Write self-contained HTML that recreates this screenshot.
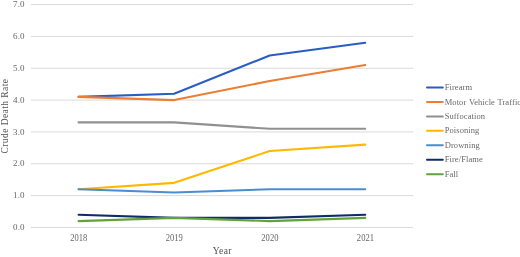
<!DOCTYPE html>
<html><head><meta charset="utf-8"><style>
html,body{margin:0;padding:0;background:#fff;width:520px;height:257px;overflow:hidden}
svg{display:block;filter:blur(0.35px)}
text{font-family:"Liberation Serif",serif}
.yl{font-size:9px;fill:#666;letter-spacing:0.1px}
.xl{font-size:9.8px;fill:#666}
.lg{font-size:8.5px;fill:#686868;letter-spacing:0.08px}
.at{font-size:9.5px;fill:#4d4d4d;letter-spacing:0.4px}
</style></head><body>
<svg width="520" height="257" viewBox="0 0 520 257">
<line x1="30.8" y1="227.45" x2="413.0" y2="227.45" stroke="#D9D9D9" stroke-width="1"/>
<line x1="30.8" y1="195.61" x2="413.0" y2="195.61" stroke="#D9D9D9" stroke-width="1"/>
<line x1="30.8" y1="163.77" x2="413.0" y2="163.77" stroke="#D9D9D9" stroke-width="1"/>
<line x1="30.8" y1="131.93" x2="413.0" y2="131.93" stroke="#D9D9D9" stroke-width="1"/>
<line x1="30.8" y1="100.09" x2="413.0" y2="100.09" stroke="#D9D9D9" stroke-width="1"/>
<line x1="30.8" y1="68.25" x2="413.0" y2="68.25" stroke="#D9D9D9" stroke-width="1"/>
<line x1="30.8" y1="36.41" x2="413.0" y2="36.41" stroke="#D9D9D9" stroke-width="1"/>
<line x1="30.8" y1="4.57" x2="413.0" y2="4.57" stroke="#D9D9D9" stroke-width="1"/>
<polyline points="78.58,96.91 174.12,93.72 269.68,55.51 365.23,42.78" fill="none" stroke="#2A5DC2" stroke-width="2.1" stroke-linejoin="round" stroke-linecap="round"/>
<polyline points="78.58,96.91 174.12,100.09 269.68,80.99 365.23,65.07" fill="none" stroke="#ED7D31" stroke-width="2.1" stroke-linejoin="round" stroke-linecap="round"/>
<polyline points="78.58,122.38 174.12,122.38 269.68,128.75 365.23,128.75" fill="none" stroke="#909090" stroke-width="2.1" stroke-linejoin="round" stroke-linecap="round"/>
<polyline points="78.58,189.24 174.12,182.87 269.68,151.03 365.23,144.67" fill="none" stroke="#FFB800" stroke-width="2.1" stroke-linejoin="round" stroke-linecap="round"/>
<polyline points="78.58,189.24 174.12,192.43 269.68,189.24 365.23,189.24" fill="none" stroke="#4A8DD0" stroke-width="2.1" stroke-linejoin="round" stroke-linecap="round"/>
<polyline points="78.58,214.71 174.12,217.90 269.68,217.90 365.23,214.71" fill="none" stroke="#102C68" stroke-width="2.1" stroke-linejoin="round" stroke-linecap="round"/>
<polyline points="78.58,221.08 174.12,217.90 269.68,221.08 365.23,217.90" fill="none" stroke="#62A23C" stroke-width="2.1" stroke-linejoin="round" stroke-linecap="round"/>
<line x1="427.0" y1="87.55" x2="442.8" y2="87.55" stroke="#2A5DC2" stroke-width="2.0" stroke-linecap="round"/>
<line x1="427.0" y1="101.99" x2="442.8" y2="101.99" stroke="#ED7D31" stroke-width="2.0" stroke-linecap="round"/>
<line x1="427.0" y1="116.43" x2="442.8" y2="116.43" stroke="#909090" stroke-width="2.0" stroke-linecap="round"/>
<line x1="427.0" y1="130.87" x2="442.8" y2="130.87" stroke="#FFB800" stroke-width="2.0" stroke-linecap="round"/>
<line x1="427.0" y1="145.31" x2="442.8" y2="145.31" stroke="#4A8DD0" stroke-width="2.0" stroke-linecap="round"/>
<line x1="427.0" y1="159.75" x2="442.8" y2="159.75" stroke="#102C68" stroke-width="2.0" stroke-linecap="round"/>
<line x1="427.0" y1="174.19" x2="442.8" y2="174.19" stroke="#62A23C" stroke-width="2.0" stroke-linecap="round"/>
<g style="filter:blur(0.3px)">
<text x="24.6" y="230.15" class="yl" text-anchor="end">0.0</text>
<text x="24.6" y="198.31" class="yl" text-anchor="end">1.0</text>
<text x="24.6" y="166.47" class="yl" text-anchor="end">2.0</text>
<text x="24.6" y="134.63" class="yl" text-anchor="end">3.0</text>
<text x="24.6" y="102.79" class="yl" text-anchor="end">4.0</text>
<text x="24.6" y="70.95" class="yl" text-anchor="end">5.0</text>
<text x="24.6" y="39.11" class="yl" text-anchor="end">6.0</text>
<text x="24.6" y="7.27" class="yl" text-anchor="end">7.0</text>
<text transform="translate(78.78,240.5) scale(0.875,1)" class="xl" text-anchor="middle">2018</text>
<text transform="translate(174.32,240.5) scale(0.875,1)" class="xl" text-anchor="middle">2019</text>
<text transform="translate(269.88,240.5) scale(0.875,1)" class="xl" text-anchor="middle">2020</text>
<text transform="translate(365.43,240.5) scale(0.875,1)" class="xl" text-anchor="middle">2021</text>
<text x="444.7" y="90.15" class="lg">Firearm</text>
<text x="444.7" y="104.59" class="lg" style="word-spacing:0.5px">Motor Vehicle Traffic</text>
<text x="444.7" y="119.03" class="lg">Suffocation</text>
<text x="444.7" y="133.47" class="lg">Poisoning</text>
<text x="444.7" y="147.91" class="lg">Drowning</text>
<text x="444.7" y="162.35" class="lg">Fire/Flame</text>
<text x="444.7" y="176.79" class="lg">Fall</text>
<text x="222.3" y="253.6" class="at" text-anchor="middle">Year</text>
<text transform="translate(8.3,116.05) rotate(-90)" class="at" text-anchor="middle" style="letter-spacing:0.43px;fill:#555">Crude Death Rate</text>
</g>
</svg>
</body></html>
